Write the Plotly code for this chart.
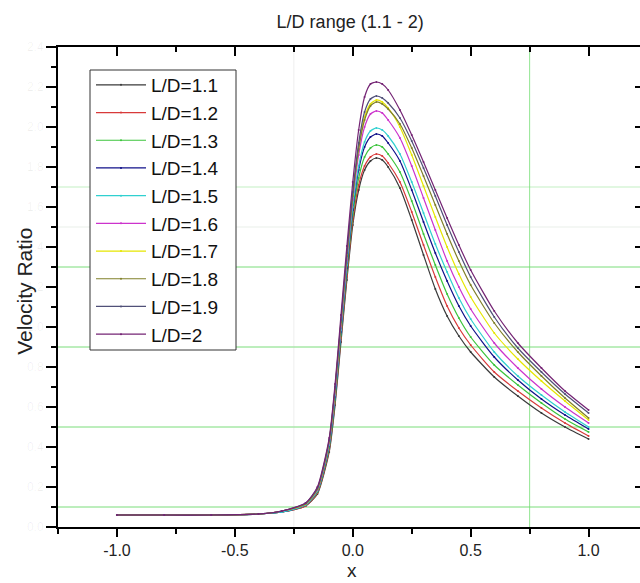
import plotly.graph_objects as go

# ---- data ----
x_pos = [-1.0, -0.8, -0.6, -0.4, -0.3, -0.2, -0.15, -0.1, -0.075, -0.05, -0.025, 0.0,
         0.025, 0.05, 0.075, 0.1, 0.125, 0.15, 0.2, 0.25, 0.3, 0.35, 0.4, 0.45, 0.5,
         0.6, 0.7, 0.8, 0.9, 1.0]

series_names = ["L/D=1.1", "L/D=1.2", "L/D=1.3", "L/D=1.4", "L/D=1.5",
                "L/D=1.6", "L/D=1.7", "L/D=1.8", "L/D=1.9", "L/D=2"]

vr_11 = [0.06, 0.06, 0.06, 0.065, 0.075, 0.105, 0.165, 0.375, 0.61, 0.925, 1.235, 1.51,
         1.685, 1.785, 1.83, 1.845, 1.835, 1.80, 1.695, 1.535, 1.36, 1.19, 1.055, 0.955, 0.875,
         0.75, 0.655, 0.57, 0.50, 0.44]
vr_12 = [0.06, 0.06, 0.06, 0.065, 0.075, 0.105, 0.17, 0.385, 0.625, 0.945, 1.255, 1.535,
         1.71, 1.805, 1.85, 1.865, 1.855, 1.82, 1.725, 1.575, 1.41, 1.25, 1.105, 0.995, 0.91,
         0.775, 0.68, 0.595, 0.52, 0.455]
vr_13 = [0.06, 0.06, 0.06, 0.065, 0.075, 0.11, 0.175, 0.395, 0.635, 0.96, 1.275, 1.56,
         1.745, 1.85, 1.895, 1.91, 1.90, 1.865, 1.775, 1.63, 1.465, 1.31, 1.165, 1.045, 0.95,
         0.81, 0.71, 0.62, 0.54, 0.475]
vr_14 = [0.06, 0.06, 0.06, 0.065, 0.075, 0.11, 0.18, 0.405, 0.65, 0.975, 1.295, 1.585,
         1.785, 1.90, 1.95, 1.965, 1.955, 1.92, 1.83, 1.685, 1.525, 1.37, 1.23, 1.105, 1.005,
         0.85, 0.735, 0.64, 0.56, 0.49]
vr_15 = [0.06, 0.06, 0.06, 0.065, 0.075, 0.11, 0.18, 0.41, 0.66, 0.985, 1.31, 1.60,
         1.805, 1.925, 1.98, 1.995, 1.985, 1.955, 1.865, 1.725, 1.57, 1.415, 1.275, 1.145, 1.04,
         0.875, 0.755, 0.66, 0.575, 0.50]
vr_16 = [0.06, 0.06, 0.06, 0.065, 0.08, 0.115, 0.185, 0.42, 0.675, 1.005, 1.335, 1.635,
         1.86, 2.00, 2.065, 2.08, 2.07, 2.035, 1.945, 1.805, 1.645, 1.485, 1.33, 1.20, 1.09,
         0.92, 0.795, 0.69, 0.60, 0.52]
vr_17 = [0.06, 0.06, 0.06, 0.065, 0.08, 0.115, 0.19, 0.43, 0.69, 1.025, 1.36, 1.66,
         1.90, 2.05, 2.115, 2.135, 2.125, 2.095, 2.00, 1.86, 1.705, 1.55, 1.40, 1.265, 1.15,
         0.97, 0.84, 0.73, 0.63, 0.535]
vr_18 = [0.06, 0.06, 0.06, 0.065, 0.08, 0.115, 0.19, 0.43, 0.69, 1.025, 1.355, 1.655,
         1.89, 2.035, 2.105, 2.125, 2.115, 2.09, 2.015, 1.895, 1.755, 1.61, 1.465, 1.33, 1.21,
         1.02, 0.875, 0.755, 0.645, 0.545]
vr_19 = [0.06, 0.06, 0.06, 0.065, 0.08, 0.12, 0.195, 0.435, 0.70, 1.035, 1.37, 1.675,
         1.92, 2.075, 2.14, 2.155, 2.145, 2.12, 2.045, 1.93, 1.795, 1.655, 1.51, 1.375, 1.25,
         1.05, 0.895, 0.775, 0.665, 0.57]
vr_20 = [0.06, 0.06, 0.06, 0.065, 0.08, 0.12, 0.20, 0.445, 0.715, 1.06, 1.405, 1.725,
         1.985, 2.15, 2.215, 2.225, 2.215, 2.185, 2.085, 1.96, 1.825, 1.685, 1.545, 1.41, 1.285,
         1.08, 0.92, 0.795, 0.68, 0.585]

series_values = [vr_11, vr_12, vr_13, vr_14, vr_15, vr_16, vr_17, vr_18, vr_19, vr_20]
series_colors = ["#3a3a3a", "#d83a3a", "#3cc43c", "#10108a", "#30d0d0",
                 "#cc33cc", "#e6e600", "#80802a", "#505078", "#742474"]

x_tick_vals = [-1.0, -0.5, 0.0, 0.5, 1.0]
x_tick_text = ["-1.0", "-0.5", "0.0", "0.5", "1.0"]

green_grid_y = [0.1, 0.5, 0.9, 1.3]
light_green_grid_y = [1.7]
green_grid_x = [0.75]
faint_grid_y = [1.5]
faint_grid_x = [-0.25]

x_range = [-1.25, 1.218]
y_range = [0, 2.4]

FONT = "Arial, Liberation Sans, sans-serif"

fig = go.Figure()
for name, vals, col in zip(series_names, series_values, series_colors):
    fig.add_trace(go.Scatter(
        x=x_pos, y=vals, name=name, mode="lines+markers",
        line=dict(color=col, width=1.2, shape="spline", smoothing=0.6),
        marker=dict(color=col, size=2),
    ))

# helper trace for top/right mirrored ticks
fig.add_trace(go.Scatter(x=[None], y=[None], xaxis="x2", yaxis="y2",
                         showlegend=False, hoverinfo="skip"))

GREEN = "rgba(100,215,100,0.85)"
shapes = []
for gy in green_grid_y:
    shapes.append(dict(type="line", xref="paper", yref="y", x0=0, x1=1, y0=gy, y1=gy,
                       line=dict(color=GREEN, width=1), layer="below"))
for gy in light_green_grid_y:
    shapes.append(dict(type="line", xref="paper", yref="y", x0=0, x1=1, y0=gy, y1=gy,
                       line=dict(color="rgba(120,220,120,0.45)", width=1), layer="below"))
for gx in green_grid_x:
    shapes.append(dict(type="line", xref="x", yref="paper", x0=gx, x1=gx, y0=0, y1=1,
                       line=dict(color="rgba(110,220,110,0.75)", width=1), layer="below"))
for gy in faint_grid_y:
    shapes.append(dict(type="line", xref="paper", yref="y", x0=0, x1=1, y0=gy, y1=gy,
                       line=dict(color="rgba(190,210,190,0.35)", width=1), layer="below"))
for gx in faint_grid_x:
    shapes.append(dict(type="line", xref="x", yref="paper", x0=gx, x1=gx, y0=0, y1=1,
                       line=dict(color="rgba(200,200,200,0.3)", width=1), layer="below"))
# legend frame (opaque)
shapes.append(dict(type="rect", xref="paper", yref="paper",
                   x0=(90 - 58) / 582, x1=(236 - 58) / 582,
                   y0=(527 - 350) / 480, y1=(527 - 70) / 480,
                   line=dict(color="#333", width=1), fillcolor="white", layer="above"))

fig.update_layout(
    width=640, height=583,
    margin=dict(l=58, r=0, t=47, b=56),
    paper_bgcolor="white", plot_bgcolor="white",
    font=dict(family=FONT, color="black"),
    title=dict(text="L/D range (1.1 - 2)", x=0.502, xref="paper", xanchor="center",
               y=1 - 22 / 583, yref="container", yanchor="middle",
               font=dict(size=18, family=FONT, color="#222")),
    xaxis=dict(range=x_range, showline=True, linecolor="black", linewidth=2,
               ticks="outside", ticklen=8, tickwidth=1.5, tickcolor="black",
               tickmode="array", tickvals=x_tick_vals, ticktext=x_tick_text,
               showgrid=False, zeroline=False,
               tickfont=dict(size=16, color="#222"),
               minor=dict(ticks="outside", ticklen=5, tickwidth=1.5, tickcolor="black",
                          dtick=0.25, tick0=0, showgrid=False)),
    yaxis=dict(range=y_range, showline=True, linecolor="black", linewidth=2,
               ticks="outside", ticklen=10, tickwidth=1.5, tickcolor="black",
               tick0=0, dtick=0.2, tickformat=".1f", showgrid=False, zeroline=False,
               tickfont=dict(size=12, color="rgba(0,0,0,0.06)"),
               minor=dict(ticks="outside", ticklen=5, tickwidth=1.5, tickcolor="black",
                          dtick=0.1, tick0=0, showgrid=False)),
    xaxis2=dict(range=x_range, overlaying="x", side="top", anchor="y2",
                showline=True, linecolor="black", linewidth=2,
                ticks="inside", ticklen=9, tickwidth=1.5, tickcolor="black",
                tick0=0, dtick=0.5, showticklabels=False, showgrid=False, zeroline=False,
                minor=dict(ticks="inside", ticklen=5, tickwidth=1.5, tickcolor="black",
                           dtick=0.25, tick0=0, showgrid=False)),
    yaxis2=dict(range=y_range, overlaying="y", side="right", anchor="x2",
                showline=False, ticks="inside", ticklen=5, tickwidth=1.5, tickcolor="black",
                tick0=0, dtick=0.2, showticklabels=False, showgrid=False, zeroline=False),
    legend=dict(x=(91 - 58) / 582, y=(527 - 66) / 480, xanchor="left", yanchor="top",
                bgcolor="rgba(0,0,0,0)", borderwidth=0,
                font=dict(size=19, family=FONT, color="#111"),
                itemwidth=50, tracegroupgap=0),
    shapes=shapes,
    annotations=[
        dict(text="Velocity Ratio", xref="paper", yref="paper", x=(25 - 58) / 582, y=0.49,
             textangle=-90, showarrow=False, xanchor="center", yanchor="middle",
             font=dict(size=21, family=FONT, color="#222")),
        dict(text="x", xref="paper", yref="paper", x=(352 - 58) / 582, y=(527 - 570) / 480,
             showarrow=False, xanchor="center", yanchor="middle",
             font=dict(size=19, family=FONT, color="#222")),
    ],
    showlegend=True,
)

fig.write_html("out.html", config={"displayModeBar": False},
               post_script="document.body.style.margin='0';")
